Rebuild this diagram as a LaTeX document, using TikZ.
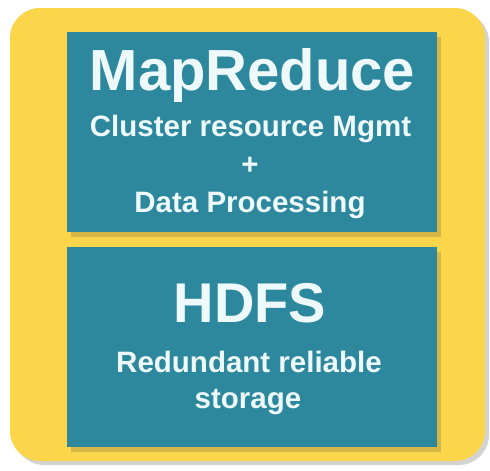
\documentclass[tikz,border=0pt]{standalone}
\usepackage{fontspec}
\setmainfont{Liberation Sans}
\usetikzlibrary{shadows}
\definecolor{panelyellow}{HTML}{FBD54A}
\definecolor{layerteal}{HTML}{2E889D}
\definecolor{labelwhite}{HTML}{EEF9FC}
\tikzset{
  panel/.style={draw=none, fill=panelyellow, rounded corners=30pt, inner sep=0pt,
    drop shadow={shadow xshift=4pt, shadow yshift=-4pt, opacity=0.35, fill=gray}},
  layer/.style={draw=none, fill=layerteal, inner sep=0pt,
    drop shadow={shadow xshift=4pt, shadow yshift=-5pt, opacity=0.25, fill=black!70!yellow}},
  title/.style={text=labelwhite, anchor=base, inner sep=0pt, font=\bfseries\fontsize{58}{58}\selectfont},
  sub/.style={text=labelwhite, anchor=base, inner sep=0pt, font=\bfseries\fontsize{29.5}{29.5}\selectfont}
}
\begin{document}
\begin{tikzpicture}[x=1pt, y=-1pt]
  \useasboundingbox (0,0) rectangle (490,471);
  % yellow backdrop
  \node[panel, minimum width=475pt, minimum height=453pt] (bg) at (247.5,234.5) {};
  % processing layer
  \node[layer, minimum width=370pt, minimum height=200pt] (mr) at (252,132) {};
  % storage layer
  \node[layer, minimum width=370pt, minimum height=200pt] (hdfs) at (252,347) {};
  % labels
  \node[title] (mrtitle) at (252.5,90) {MapReduce};
  \node[sub] (mrl1) at (250.5,136) {Cluster resource Mgmt};
  \node[sub] (mrl2) at (250,174) {+};
  \node[sub] (mrl3) at (250,212) {Data Processing};
  \node[title, font=\bfseries\fontsize{56}{56}\selectfont] (hdfstitle) at (250,322) {HDFS};
  \node[sub] (hl1) at (249,372) {Redundant reliable};
  \node[sub] (hl2) at (248,408) {storage};
\end{tikzpicture}
\end{document}
